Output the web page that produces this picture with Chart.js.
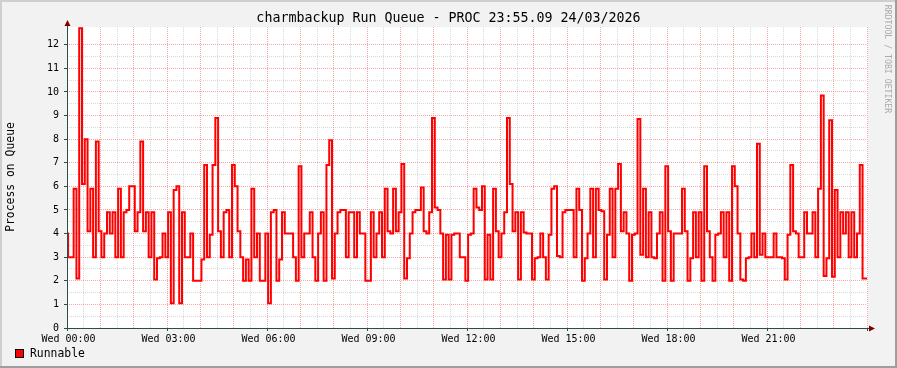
<!DOCTYPE html>
<html>
<head>
<meta charset="utf-8">
<script src="https://cdn.jsdelivr.net/npm/chart.js@4.4.7/dist/chart.umd.min.js"></script>
<style>
  html, body { margin: 0; padding: 0; background: #f2f2f2; }
  canvas { display: block; }
</style>
</head>
<body>
<canvas id="chart" width="897" height="368"></canvas>
<script>
const chartTitle = 'charmbackup Run Queue - PROC 23:55.09 24/03/2026';
const yAxisTitle = 'Process on Queue';
const seriesName = 'Runnable';
const watermark = 'RRDTOOL / TOBI OETIKER';

// 5 minute samples over one day, first sample starts 2 min after midnight
const stepMinutes = 5;
const sampleOffsetMinutes = 2;
const dayMinutes = 1440;
const timeLabels = ['Wed 00:00', 'Wed 03:00', 'Wed 06:00', 'Wed 09:00', 'Wed 12:00', 'Wed 15:00', 'Wed 18:00', 'Wed 21:00'];
const yTickLabels = ['0', '1', '2', '3', '4', '5', '6', '7', '8', '9', '10', '11', '12'];
const yMax = 12.75;

const runnable = [
  3, 3, 5.9, 2.1, 12.7, 6.1, 8, 4.1, 5.9, 3, 7.9, 4.1, 3, 4, 4.9, 4, 4.9, 3, 5.9, 3,
  4.9, 5, 6, 6, 4.1, 4.9, 7.9, 4.1, 4.9, 3, 4.9, 2.05, 2.95, 3, 4, 3, 4.9, 1.05, 5.85, 6,
  1.05, 4.9, 3, 3, 4, 2, 2, 2, 2.9, 6.9, 3, 3.95, 6.9, 8.9, 4.1, 3, 4.9, 5, 3, 6.9,
  6, 4.1, 3, 2, 2.9, 2, 5.9, 3, 4, 2, 2, 4, 1.05, 4.9, 5, 2, 2.9, 4.9, 4, 4,
  4, 3, 2, 6.85, 3, 4, 4, 4.9, 3, 2, 4, 4.9, 2, 6.9, 7.95, 2.1, 4, 4.9, 5, 5,
  3, 4.9, 4.9, 3, 4.9, 4, 4, 2, 2, 4.9, 3, 4, 4.9, 3, 5.9, 4.1, 4, 5.9, 4.1, 4.9,
  6.95, 2.1, 2.95, 4, 4.9, 5, 5, 5.95, 4.1, 4, 4.9, 8.9, 5.1, 5, 4, 2.05, 3.95, 2.05, 3.95, 4,
  4, 3, 3, 2, 3.95, 4, 5.9, 5.1, 5, 6, 2.05, 3.95, 2.05, 5.9, 4.1, 3, 4, 4.9, 8.9, 6.1,
  4.1, 4.9, 2.05, 4.9, 4.05, 4, 4, 2.05, 2.95, 3, 4, 3, 2.05, 3.95, 5.9, 6, 3.05, 3, 4.9, 5,
  5, 5, 3, 5.9, 5, 2, 2.95, 4, 5.9, 3, 5.9, 5, 4.95, 2.05, 3.95, 5.9, 3, 5.9, 6.95, 4.1,
  4.9, 4, 2, 3.95, 4, 8.85, 3.1, 5.9, 3, 4.9, 3, 2.95, 4, 4.9, 2, 6.85, 4.1, 2, 4, 4,
  4, 5.9, 4.1, 2, 2.95, 4.9, 3, 4.9, 2, 6.85, 4.1, 3, 2, 3.95, 4, 4.9, 3, 4.9, 2, 6.85,
  6, 4, 2.05, 2, 2.95, 3, 4, 3, 7.8, 3.1, 4, 3, 3, 3, 4, 3, 3, 2.95, 2.05, 3.95,
  6.9, 4.1, 4, 3, 3, 4.9, 4, 4, 4.9, 3, 5.9, 9.85, 2.2, 2.95, 8.8, 2.17, 5.85, 3, 4.9, 4,
  4.9, 3, 4.9, 3, 4, 6.9, 2.1, 2.1
];

// value i holds from its sample time until the next one
const points = [{ x: 0, y: 4 }];
runnable.forEach((v, i) => points.push({ x: sampleOffsetMinutes + i * stepMinutes, y: v }));
points.push({ x: dayMinutes, y: runnable[runnable.length - 1] });

const mono = "'DejaVu Sans Mono', monospace";
const majorGrid = 'rgba(245, 110, 110, 0.6)';
const minorGrid = 'rgba(160, 160, 160, 0.4)';
const axisColor = '#2c4d43';
const arrowColor = '#800000';

const rrdFrame = {
  id: 'rrdFrame',
  beforeDraw(chart) {
    const { ctx, chartArea: a } = chart;
    const w = chart.width, h = chart.height;
    ctx.save();
    ctx.fillStyle = '#f2f2f2';
    ctx.fillRect(0, 0, w, h);
    ctx.fillStyle = '#cfcfcf';
    ctx.fillRect(0, 0, w, 2);
    ctx.fillRect(0, 0, 2, h);
    ctx.fillStyle = '#9e9e9e';
    ctx.fillRect(0, h - 2, w, 2);
    ctx.fillRect(w - 2, 0, 2, h);
    ctx.fillStyle = '#ffffff';
    ctx.fillRect(a.left, a.top, a.right - a.left + 1, a.bottom - a.top);
    ctx.restore();
  },
  afterDraw(chart) {
    const { ctx, chartArea: a } = chart;
    ctx.save();
    // axes
    ctx.strokeStyle = axisColor;
    ctx.lineWidth = 1;
    ctx.beginPath();
    ctx.moveTo(a.left + 0.5, a.bottom + 3);
    ctx.lineTo(a.left + 0.5, 22);
    ctx.moveTo(a.left - 3, a.bottom + 0.5);
    ctx.lineTo(a.right + 6, a.bottom + 0.5);
    ctx.stroke();
    // arrows
    ctx.fillStyle = arrowColor;
    ctx.beginPath();
    ctx.moveTo(a.left + 0.5, 20);
    ctx.lineTo(a.left - 2.5, 26);
    ctx.lineTo(a.left + 3.5, 26);
    ctx.closePath();
    ctx.fill();
    ctx.beginPath();
    ctx.moveTo(a.right + 8, a.bottom + 0.5);
    ctx.lineTo(a.right + 2, a.bottom - 2.5);
    ctx.lineTo(a.right + 2, a.bottom + 3.5);
    ctx.closePath();
    ctx.fill();

    // title
    ctx.fillStyle = '#000';
    ctx.textAlign = 'center';
    ctx.textBaseline = 'middle';
    ctx.font = '13.3px ' + mono;
    ctx.fillText(chartTitle, chart.width / 2, 19);

    // y axis title
    ctx.save();
    ctx.translate(11, 177);
    ctx.rotate(-Math.PI / 2);
    ctx.font = '11.4px ' + mono;
    ctx.fillText(yAxisTitle, 0, 0);
    ctx.restore();

    // watermark
    ctx.save();
    ctx.translate(887, 59);
    ctx.rotate(Math.PI / 2);
    ctx.fillStyle = '#aaaaaa';
    ctx.font = '8.2px ' + mono;
    ctx.fillText(watermark, 0, 0);
    ctx.restore();

    // legend
    ctx.fillStyle = '#ff0000';
    ctx.fillRect(15, 349, 9, 9);
    ctx.strokeStyle = '#000';
    ctx.strokeRect(15.5, 349.5, 8, 8);
    ctx.fillStyle = '#000';
    ctx.textAlign = 'left';
    ctx.font = '11.4px ' + mono;
    ctx.fillText(seriesName, 30, 354);
    ctx.restore();
  }
};

new Chart(document.getElementById('chart'), {
  type: 'line',
  data: {
    datasets: [{
      label: seriesName,
      data: points,
      stepped: 'before',
      borderColor: '#ff0000',
      borderWidth: 2,
      pointRadius: 0,
      fill: false
    }]
  },
  options: {
    responsive: false,
    animation: false,
    devicePixelRatio: 1,
    layout: { padding: { left: 0, top: 27, right: 30, bottom: 0 } },
    plugins: { legend: { display: false }, tooltip: { enabled: false } },
    scales: {
      x: {
        type: 'linear',
        min: 0,
        max: dayMinutes,
        afterFit: (s) => { s.height = 40; },
        border: { display: false, dash: [1, 1] },
        grid: {
          color: (c) => c.tick.value % 60 === 0 ? majorGrid : minorGrid,
          tickColor: (c) => c.tick.value % 180 === 0 ? axisColor : 'rgba(0,0,0,0)',
          tickLength: 3
        },
        ticks: {
          stepSize: 30,
          autoSkip: false,
          maxRotation: 0,
          padding: 2,
          labelOffset: 1.5,
          color: '#000',
          font: { family: mono, size: 10 },
          callback: (v) => (v % 180 === 0 && v < dayMinutes) ? timeLabels[v / 180] : ''
        }
      },
      y: {
        min: 0,
        max: yMax,
        afterFit: (s) => { s.width = 67; },
        border: { display: false, dash: [1, 1] },
        grid: {
          color: (c) => {
            const v = c.tick.value;
            if (Number.isInteger(v)) return majorGrid;
            if (Number.isInteger(v * 2)) return minorGrid;
            return 'rgba(0,0,0,0)';
          },
          tickColor: (c) => Number.isInteger(c.tick.value) ? axisColor : 'rgba(0,0,0,0)',
          tickLength: 3
        },
        ticks: {
          stepSize: 0.5,
          autoSkip: false,
          padding: 5,
          color: '#000',
          font: { family: mono, size: 10 },
          callback: (v) => Number.isInteger(v) ? yTickLabels[v] : ''
        }
      }
    }
  },
  plugins: [rrdFrame]
});
</script>
</body>
</html>
